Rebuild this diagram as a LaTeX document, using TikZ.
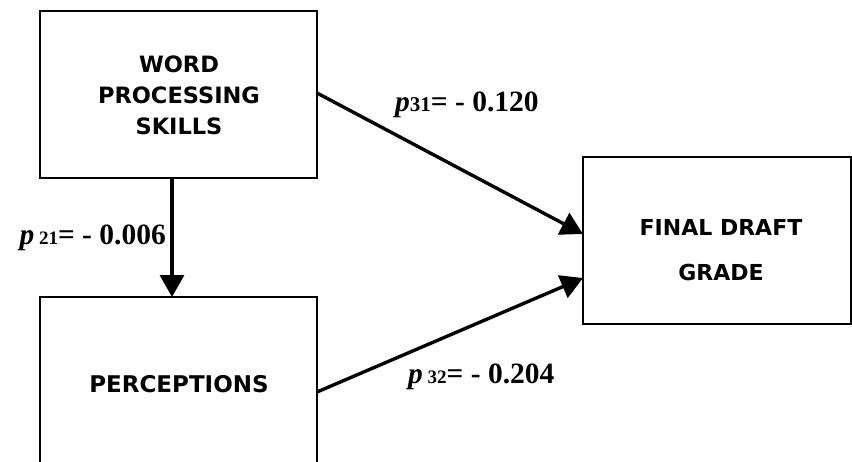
\documentclass[tikz,border=0pt]{standalone}
\usepackage{fontspec}
\setmainfont{Liberation Serif}
\newfontfamily\boxfont{DejaVu Sans}
\usetikzlibrary{arrows.meta}
\begin{document}
\begin{tikzpicture}[x=1pt,y=-1pt,
  boxstyle/.style={draw=black,line width=1.6pt,fill=white},
  boxtext/.style={font=\boxfont\bfseries,align=center},
  arr/.style={line width=3.4pt,-{Triangle[length=22pt,width=24pt]}},
  lab/.style={font=\bfseries\fontsize{29.5}{32}\selectfont,inner sep=0pt}]
\useasboundingbox (0,0) rectangle (852,461);
\begin{scope}
\clip (0,0) rectangle (852,461);
\draw[boxstyle] (40,11) rectangle (317,178);
\draw[boxstyle] (40,297) rectangle (317,480);
\draw[boxstyle] (583,157) rectangle (851,324);
\end{scope}
\node[boxtext,font=\boxfont\bfseries\fontsize{22.5}{31}\selectfont] (wps) at (179,95) {WORD\\PROCESSING\\SKILLS};
\node[boxtext,font=\boxfont\bfseries\fontsize{23}{30}\selectfont] (per) at (179,384) {PERCEPTIONS};
\node[boxtext,font=\boxfont\bfseries\fontsize{22}{45}\selectfont] (fdg) at (721,250) {FINAL DRAFT\\GRADE};
\coordinate (a1s) at (317,93);
\coordinate (a1e) at (583,234);
\coordinate (a2s) at (317,392);
\coordinate (a2e) at (583,278);
\coordinate (a3s) at (172,178);
\coordinate (a3e) at (172,297);
\draw[arr] (a1s) -- (a1e);
\draw[arr] (a2s) -- (a2e);
\draw[arr] (a3s) -- (a3e);
\node[lab,anchor=west] (l31) at (395,105) {\itshape p\upshape\fontsize{21}{22}\selectfont 31\fontsize{29.5}{32}\selectfont= - 0.120};
\node[lab,anchor=east] (l21) at (166,238) {\itshape p\upshape\fontsize{19}{22}\selectfont\ 21\fontsize{29.5}{32}\selectfont= - 0.006};
\node[lab,anchor=west] (l32) at (408,377) {\itshape p\upshape\fontsize{19}{22}\selectfont\ 32\fontsize{29.5}{32}\selectfont= - 0.204};
\end{tikzpicture}
\end{document}
